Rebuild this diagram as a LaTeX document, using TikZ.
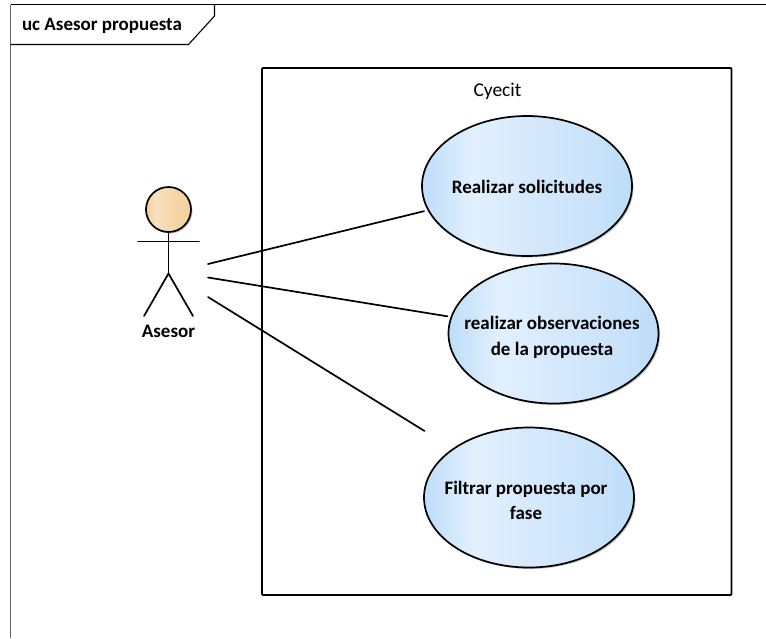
\documentclass[tikz,border=0pt]{standalone}
\usepackage{fontspec}
\setmainfont{Carlito}
\usetikzlibrary{shapes.geometric,shadows}
\definecolor{ucside}{HTML}{BDDDF9}
\definecolor{uclight}{HTML}{E2F0FE}
\definecolor{ucmid}{HTML}{D6E9FC}
\definecolor{ucmidr}{HTML}{CCE4FB}
\definecolor{hdside}{HTML}{F3CF9C}
\definecolor{hdlight}{HTML}{F8E1C0}
\definecolor{hdmid}{HTML}{F5D9AE}
\definecolor{softshadow}{HTML}{C4C4C4}
\pgfdeclarehorizontalshading{ucshade}{100bp}{
  color(0bp)=(ucside); color(25bp)=(ucside); color(37bp)=(uclight); color(50bp)=(ucmid); color(63bp)=(ucmidr); color(75bp)=(ucside); color(100bp)=(ucside)}
\pgfdeclarehorizontalshading{headshade}{100bp}{
  color(0bp)=(hdside); color(25bp)=(hdside); color(36bp)=(hdlight); color(50bp)=(hdmid); color(75bp)=(hdside); color(100bp)=(hdside)}
\tikzset{
  linkline/.style={draw=black,line width=1.7pt,line cap=round},
  ucase/.style={ellipse,draw=black,line width=1.7pt,inner sep=0pt,outer sep=0pt,shading=ucshade,
    minimum width=210pt,minimum height=140pt,
    general shadow={shadow xshift=1.5pt,shadow yshift=-1.5pt,fill=softshadow}},
  uctext/.style={inner sep=0pt,outer sep=0pt,align=center,font=\fontsize{19}{25.5}\selectfont\bfseries},
  systembox/.style={rectangle,draw=black,line width=1.9pt,rounded corners=1pt,inner sep=0pt,outer sep=0pt,
    minimum width=469.5pt,minimum height=527pt},
  actorhd/.style={circle,draw=black,line width=1.7pt,inner sep=0pt,outer sep=0pt,minimum size=45pt,shading=headshade,
    general shadow={shadow xshift=1.5pt,shadow yshift=-1.5pt,fill=softshadow}},
  lblbold/.style={inner sep=0pt,outer sep=0pt,font=\fontsize{19}{23}\selectfont\bfseries},
  lblplain/.style={inner sep=0pt,outer sep=0pt,font=\fontsize{19.5}{23}\selectfont},
  framerule/.style={draw=black,line width=1.1pt},
}
\begin{document}
\begin{tikzpicture}[x=1pt,y=-1pt]
\useasboundingbox (0,0) rectangle (766,638);
% frame
\draw[draw=black!60,line width=1.1pt] (10.5,4.5) -- (10.5,638);
\draw[framerule] (10.5,4.5) -- (766,4.5);
\draw[framerule] (214.5,4.5) -- (214.5,16) -- (188.5,44.5) -- (10.5,44.5);
\node[lblbold] (frametitle) at (102,26) {uc Asesor propuesta};
% system boundary
\node[systembox] (system) at (496.75,331.5) {};
\node[lblplain] (systemname) at (497.5,91) {Cyecit};
% use cases
\node[ucase] (uc1) at (527,186) {};
\node[ucase] (uc2) at (553.5,333.5) {};
\node[ucase] (uc3) at (529,497.5) {};
\node[uctext] (uc1text) at (527,186.5) {Realizar solicitudes};
\node[uctext] (uc2text) at (552,337.5) {realizar observaciones\\de la propuesta};
\node[uctext] (uc3text) at (526,500.5) {Filtrar propuesta por\\fase};
% actor
\node[actorhd] (actorhead) at (168.5,209.5) {};
\coordinate (hip) at (168.5,273.5);
\coordinate (armL) at (138,241.5);
\coordinate (armR) at (199,241.5);
\coordinate (legL) at (144,316);
\coordinate (legR) at (193,316);
\draw[linkline] (actorhead.south) -- (hip);
\draw[linkline] (armL) -- (armR);
\draw[linkline] (legL) -- (hip) -- (legR);
\node[lblbold] (actorname) at (168.5,331.5) {Asesor};
% connectors
\coordinate (from1) at (208,264);
\coordinate (from2) at (208,277.5);
\coordinate (from3) at (208,297);
\coordinate (to3) at (424.5,431);
\draw[linkline,shorten >=4.5pt] (from1) -- (uc1);
\draw[linkline,shorten >=4pt] (from2) -- (uc2);
\draw[linkline] (from3) -- (to3);
\end{tikzpicture}
\end{document}
